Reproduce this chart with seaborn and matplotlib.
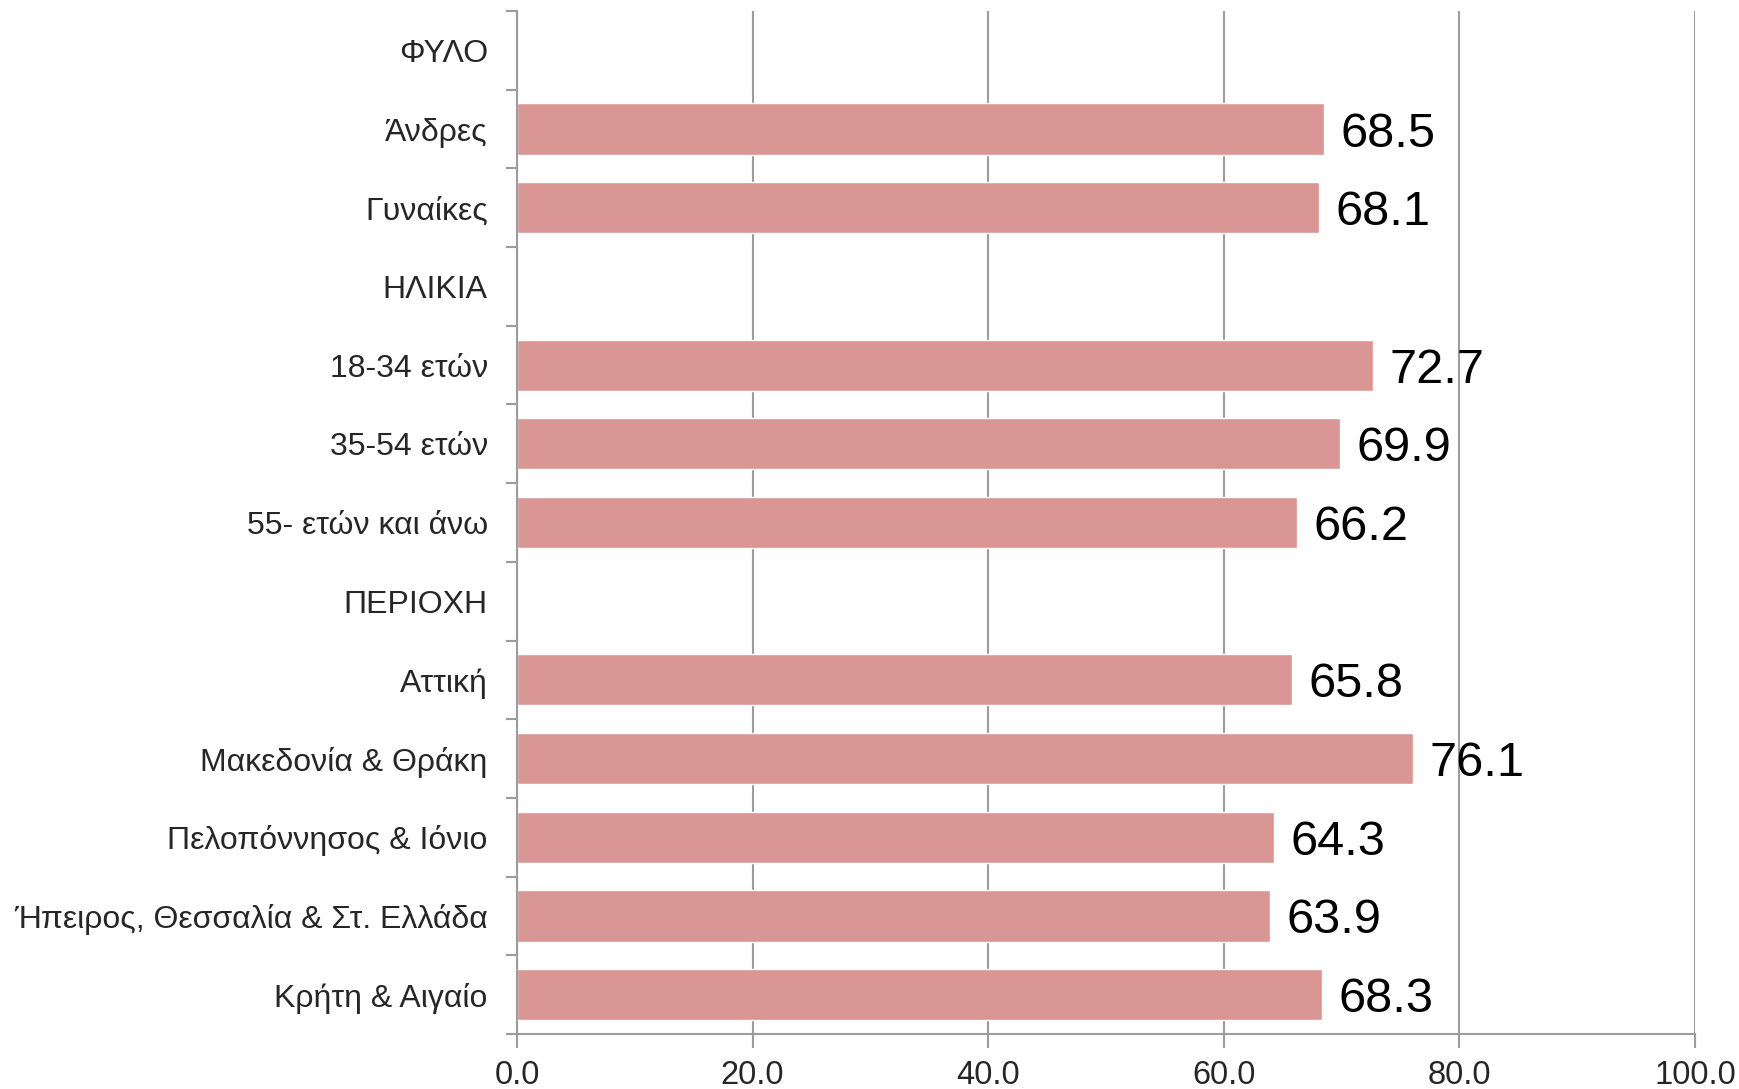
import numpy as np
import pandas as pd
import matplotlib
matplotlib.use('Agg')
import matplotlib.pyplot as plt
import seaborn as sns

# data (header rows have no bar)
categories = ['ΦΥΛΟ', 'Άνδρες', 'Γυναίκες', 'ΗΛΙΚΙΑ', '18-34 ετών', '35-54 ετών',
              '55- ετών και άνω', 'ΠΕΡΙΟΧΗ', 'Αττική', 'Μακεδονία & Θράκη',
              'Πελοπόννησος & Ιόνιο', 'Ήπειρος, Θεσσαλία & Στ. Ελλάδα', 'Κρήτη & Αιγαίο']
values = [np.nan, 68.5, 68.1, np.nan, 72.7, 69.9, 66.2, np.nan, 65.8, 76.1, 64.3, 63.9, 68.3]
x_ticks = [0, 20, 40, 60, 80, 100]

df = pd.DataFrame({'cat': categories, 'val': values})

sns.set_style('white')
plt.rcParams['font.family'] = ['Liberation Sans', 'DejaVu Sans']

bar_color = '#D99694'
grid_color = '#9c9c9c'

fig = plt.figure(figsize=(17.39, 10.89), dpi=100)
ax = fig.add_axes([0.2973, 0.0505, 0.9747 - 0.2973, 0.9899 - 0.0505])

sns.barplot(data=df.dropna(), x='val', y='cat', order=categories, color=bar_color,
            width=0.65, saturation=1, ax=ax, orient='h')

for i, v in enumerate(values):
    if not np.isnan(v):
        ax.text(v + 1.4, i, f'{v:.1f}', va='center_baseline', ha='left', fontsize=35, color='black')

ax.set_xlim(0, 100)
ax.set_ylim(12.5, -0.5)
ax.set_xticks(x_ticks)
ax.set_xticklabels([f'{t:.1f}' for t in x_ticks], fontsize=23.5)
ax.set_xlabel('')
ax.set_ylabel('')
ax.tick_params(axis='y', which='major', length=0, pad=21, labelsize=23)
ax.set_yticks(np.arange(-0.5, 13, 1), minor=True)
ax.tick_params(axis='y', which='minor', left=True, length=8, width=1.5, color=grid_color, direction='out')
ax.tick_params(axis='x', which='major', bottom=True, length=10, width=1.5, color=grid_color,
               direction='out', pad=9)

ax.xaxis.grid(True, color=grid_color, linewidth=1.5)
ax.set_axisbelow(True)
for s in ['top', 'right']:
    ax.spines[s].set_visible(False)
for s in ['left', 'bottom']:
    ax.spines[s].set_color(grid_color)
    ax.spines[s].set_linewidth(1.5)

fig.savefig('out.png', dpi=100)
